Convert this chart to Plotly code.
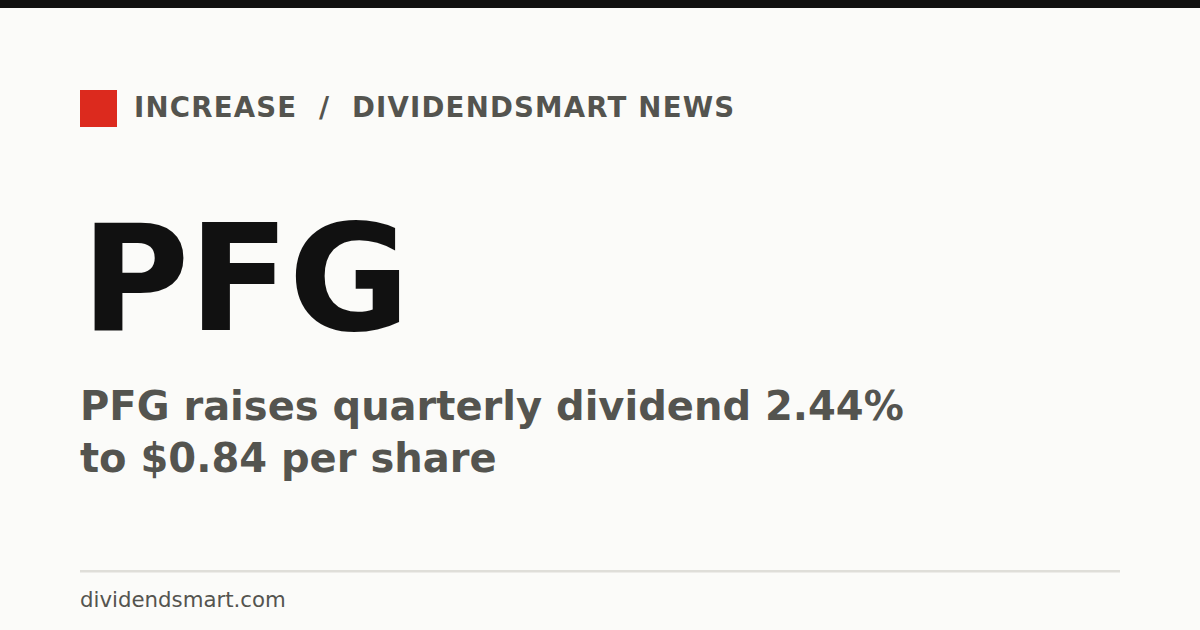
"""
Карточка новости DividendSmart: PFG повышает квартальный дивиденд
"""

import plotly.graph_objects as go

# текстовые данные карточки
tag = "INCREASE"
source = "DIVIDENDSMART NEWS"
ticker = "PFG"
headline_lines = ["PFG raises quarterly dividend 2.44%", "to $0.84 per share"]
site = "dividendsmart.com"

W, H = 1200, 630
BG = "#fbfbf9"
DARK = "#111111"
GREY = "#54544f"
RED = "#dc2a1e"
RULE = "#dfded9"
FONT = "DejaVu Sans"

fig = go.Figure()

# полоса сверху, красный квадрат, линия над подвалом
fig.add_shape(type="rect", x0=0, x1=W, y0=0, y1=8, fillcolor=DARK, line_width=0, layer="below")
fig.add_shape(type="rect", x0=80, x1=117, y0=90, y1=127, fillcolor=RED, line_width=0, layer="below")
fig.add_shape(type="line", x0=80, x1=1120, y0=571.3, y1=571.3, line=dict(color=RULE, width=2.6))

header = tag + "\u00a0\u00a0/\u00a0\u00a0" + source


def spaced(text, px):
    """ Текст с разрядкой (letter-spacing) """
    return '<span style="letter-spacing:%spx">%s</span>' % (px, text)


fig.add_annotation(x=133, y=107.8, text="<b>%s</b>" % spaced(header, 1.2), xanchor="left",
                   yanchor="middle", font=dict(family=FONT, size=27.6, color=GREY))
fig.add_annotation(x=80, y=278.8, text="<b>%s</b>" % spaced(ticker, -1), xanchor="left",
                   yanchor="middle", font=dict(family=FONT, size=148, color=DARK))
fig.add_annotation(x=79, y=432.2, text="<b>%s</b>" % "<br>".join(headline_lines), xanchor="left",
                   yanchor="middle", align="left", font=dict(family=FONT, size=40, color=GREY))
fig.add_annotation(x=79, y=599.3, text=site, xanchor="left", yanchor="middle",
                   font=dict(family=FONT, size=21.3, color=GREY))

fig.update_annotations(xref="x", yref="y", showarrow=False, borderpad=0)

fig.update_xaxes(range=[0, W], visible=False, fixedrange=True)
fig.update_yaxes(range=[H, 0], visible=False, fixedrange=True)
fig.update_layout(width=W, height=H, margin=dict(l=0, r=0, t=0, b=0),
                  paper_bgcolor=BG, plot_bgcolor=BG, showlegend=False)

# убираем отступ страницы, чтобы карточка стояла в углу окна
fig.write_html("out.html", config={"displayModeBar": False},
               post_script="document.body.style.margin='0';")
